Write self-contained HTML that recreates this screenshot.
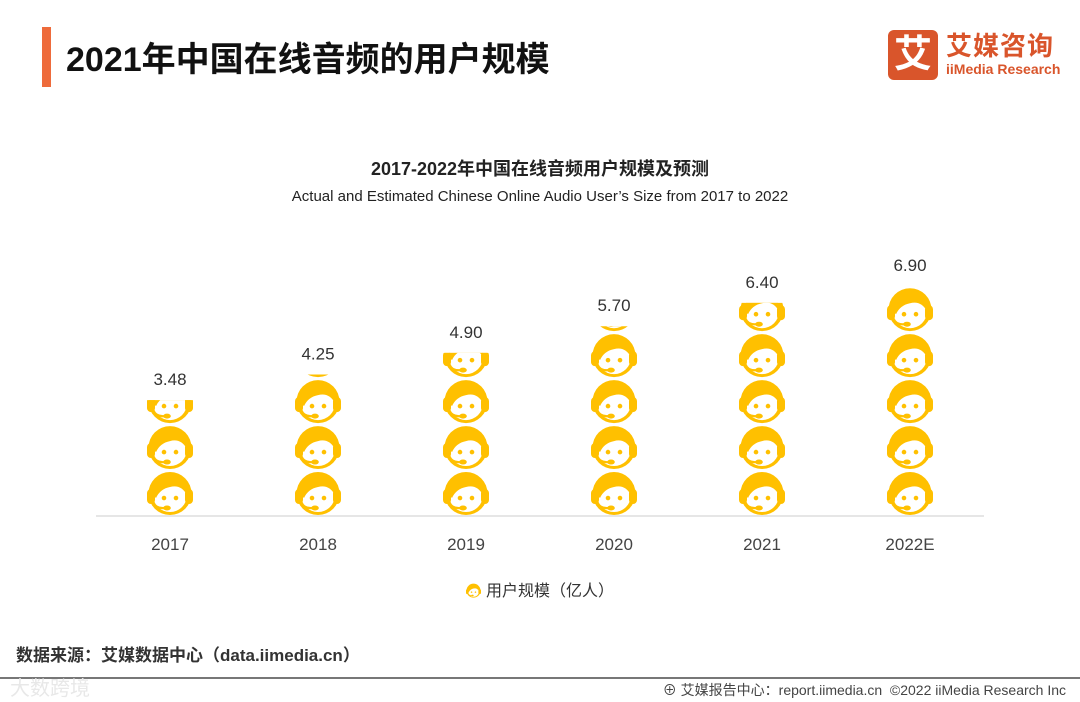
<!DOCTYPE html>
<html><head><meta charset="utf-8"><style>
body{margin:0;width:1080px;height:702px;background:#fff;font-family:"Liberation Sans","Noto Sans CJK SC",sans-serif;position:relative;overflow:hidden}
.abs{position:absolute}
</style></head><body>
<div class="abs" style="left:42px;top:27px;width:9px;height:60px;background:#EE6B3B"></div>
<div class="abs" style="left:66px;top:32px;font-size:34px;font-weight:bold;color:#111">2021年中国在线音频的用户规模</div>
<div class="abs" style="left:888px;top:30px;width:180px;height:52px">
  <div style="position:absolute;left:0;top:0;width:50px;height:50px;background:#D9552B;border-radius:6px;color:#fff;font-size:38px;font-weight:bold;text-align:center;line-height:50px">艾</div>
  <div style="position:absolute;left:58px;top:-4px;font-size:26px;font-weight:bold;color:#D9552B;letter-spacing:1px">艾媒咨询</div>
  <div style="position:absolute;left:58px;top:31px;font-size:14px;font-weight:bold;color:#D9552B">iiMedia Research</div>
</div>
<div class="abs" style="left:0;width:1080px;top:155px;text-align:center;font-size:18px;font-weight:bold;color:#222">2017-2022年中国在线音频用户规模及预测</div>
<div class="abs" style="left:0;width:1080px;top:188px;text-align:center;font-size:15px;color:#222">Actual and Estimated Chinese Online Audio User’s Size from 2017 to 2022</div>
<svg class="abs" style="left:0;top:0" width="1080" height="702">
<defs>
<symbol id="head" viewBox="0 0 46 46" preserveAspectRatio="none">
  <circle cx="23" cy="23.5" r="21.5" fill="#FFC000"/>
  <circle cx="23" cy="25" r="17" fill="#fff"/>
  <path d="M6 25 Q6 6 23 6 Q40 6 40 25 Q34 14 23 17 Q13 19 9 28 Z" fill="#FFC000"/>
  <rect x="0" y="19" width="8" height="15" rx="4" fill="#FFC000"/>
  <rect x="38" y="19" width="8" height="15" rx="4" fill="#FFC000"/>
  <circle cx="17" cy="28" r="2.3" fill="#FFC000"/>
  <circle cx="29" cy="28" r="2.3" fill="#FFC000"/>
  <path d="M6 32 Q9 39 18 38" stroke="#FFC000" stroke-width="2.2" fill="none"/>
  <ellipse cx="20" cy="38" rx="3.8" ry="2.5" fill="#FFC000"/>
</symbol>
</defs>
<line x1="96" y1="516" x2="984" y2="516" stroke="#ddd" stroke-width="1.5"/>
<g id="marks"></g>
<use href="#head" x="466" y="583" width="15" height="15"/>
<text x="486" y="596" font-size="16" fill="#333">用户规模（亿人）</text>
</svg>
<div class="abs" style="left:16px;top:641px;font-size:17px;font-weight:bold;color:#333">数据来源：艾媒数据中心（data.iimedia.cn）</div>
<div class="abs" style="left:0;top:677px;width:1080px;height:2px;background:#777"></div>
<div class="abs" style="left:10px;top:672px;font-size:20px;color:#e8e8e8">大数跨境</div>
<div class="abs" style="right:14px;top:680px;font-size:14px;color:#444">⊕ 艾媒报告中心：report.iimedia.cn &nbsp;©2022 iiMedia Research Inc</div>
<script>
const categories=["2017","2018","2019","2020","2021","2022E"];
const values=[3.48,4.25,4.90,5.70,6.40,6.90];
const valueLabels=["3.48","4.25","4.90","5.70","6.40","6.90"];
const unitPerIcon=1.38;
const NS="http://www.w3.org/2000/svg";
const base=516, pxPerUnit=33.3, iconH=unitPerIcon*pxPerUnit;
function xScale(i){return 170+i*148;}
function yScale(v){return base-v*pxPerUnit;}
const g=document.getElementById('marks');
const defs=document.querySelector('defs');
categories.forEach((c,i)=>{
  const cx=xScale(i), top=yScale(values[i]);
  const cp=document.createElementNS(NS,'clipPath');cp.id='cp'+i;
  const r=document.createElementNS(NS,'rect');
  r.setAttribute('x',cx-30);r.setAttribute('y',top);r.setAttribute('width',60);r.setAttribute('height',base-top);
  cp.appendChild(r);defs.appendChild(cp);
  const col=document.createElementNS(NS,'g');
  col.setAttribute('clip-path','url(#cp'+i+')');
  
  
  const n=Math.ceil(values[i]/unitPerIcon);
  for(let k=0;k<n;k++){
    const u=document.createElementNS(NS,'use');
    u.setAttribute('href','#head');
    u.setAttribute('x',cx-23);u.setAttribute('y',base-(k+1)*iconH);
    u.setAttribute('width',46);u.setAttribute('height',iconH);
    
    
    col.appendChild(u);
  }
  g.appendChild(col);
  const t=document.createElementNS(NS,'text');
  t.setAttribute('x',cx);t.setAttribute('y',top-15);t.setAttribute('text-anchor','middle');
  t.setAttribute('font-size','17');t.setAttribute('fill','#333');t.textContent=valueLabels[i];
  
  
  g.appendChild(t);
  const xl=document.createElementNS(NS,'text');
  xl.setAttribute('x',cx);xl.setAttribute('y',550);xl.setAttribute('text-anchor','middle');
  xl.setAttribute('font-size','17');xl.setAttribute('fill','#444');xl.textContent=c;
  
  
  g.appendChild(xl);
});
</script>
</body></html>
